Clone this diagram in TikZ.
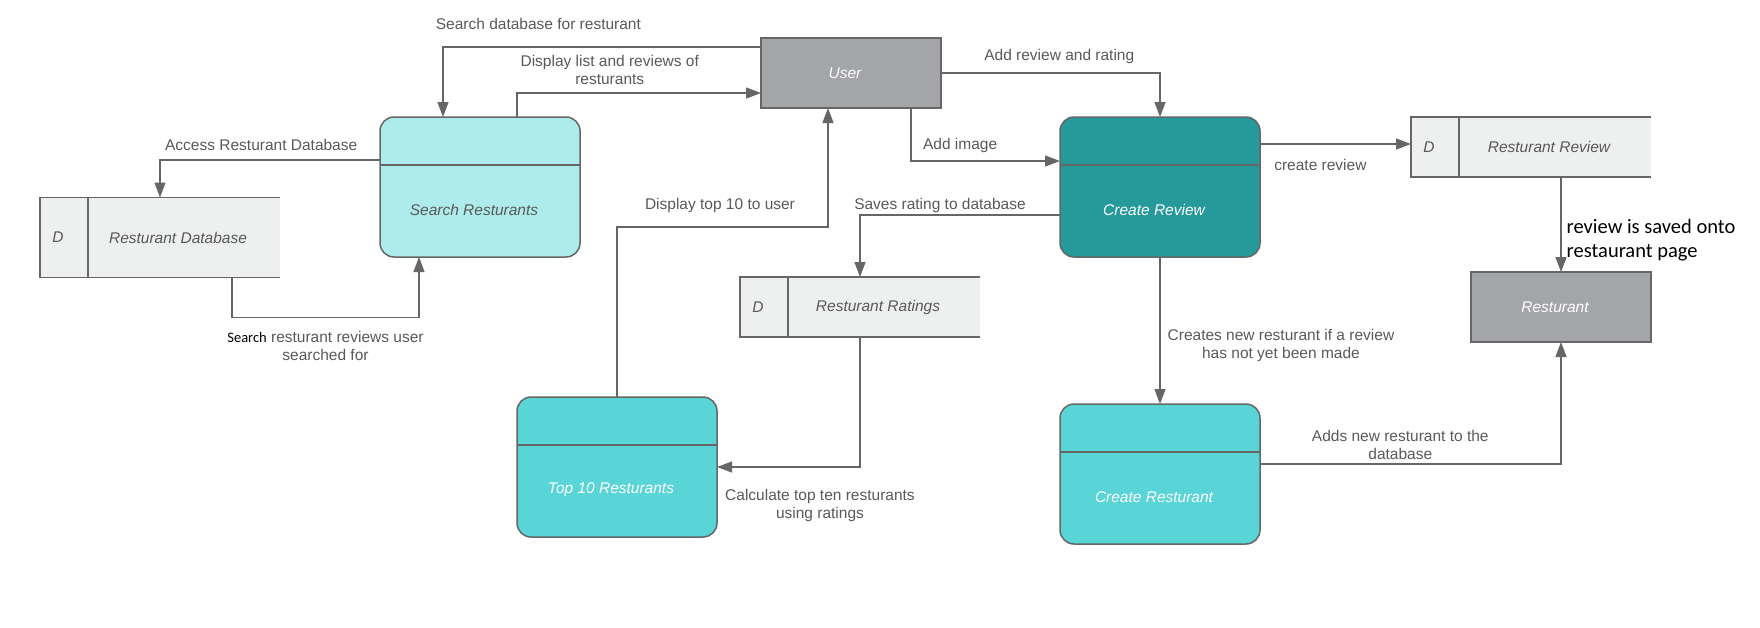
\documentclass[tikz,border=0pt]{standalone}
\usepackage{fontspec}
\setmainfont{Liberation Sans}
\newfontfamily\calibri{Carlito}
\usetikzlibrary{positioning,arrows.meta}

\definecolor{linegray}{HTML}{666666}
\definecolor{textgray}{HTML}{595959}
\definecolor{entitygray}{HTML}{A4A5A9}
\definecolor{paleteal}{HTML}{AEEBEB}
\definecolor{darkteal}{HTML}{26999A}
\definecolor{midteal}{HTML}{59D5D8}
\definecolor{storegray}{HTML}{EEF0EF}

\def\lblfont{\fontsize{15.5}{18}\selectfont}

\tikzset{
    textleft/.style={execute at end node={\hspace*{12pt}}},
    entity/.style={draw=linegray, line width=1.5pt, fill=entitygray, minimum width=180pt,
        minimum height=70pt, outer sep=0pt, font=\lblfont\itshape, text=white, textleft},
    process/.style={draw=linegray, line width=1.5pt, rounded corners=14pt, minimum width=200pt,
        minimum height=140pt, outer sep=0pt,
        path picture={\draw[linegray, line width=1.5pt]
            ([yshift=-48pt]path picture bounding box.north west) --
            ([yshift=-48pt]path picture bounding box.north east);}},
    proctext/.style={font=\lblfont\itshape, text=white, textleft},
    storeid/.style={fill=storegray, minimum width=48pt, outer sep=0pt, font=\lblfont\itshape, text=textgray, textleft},
    storebody/.style={fill=storegray, minimum width=192pt, outer sep=0pt, font=\lblfont\itshape, text=textgray, textleft},
    storeline/.style={draw=linegray, line width=1.5pt},
    flow/.style={draw=linegray, line width=1.3pt, -{Triangle[length=15pt,width=11pt]}},
    lbl/.style={text=textgray, align=center, font=\lblfont}
}

% name, centre of the D cell, height, label
\newcommand\DataStore[4]{
    \node[storeid, minimum height=#3] (#1-d) at (#2) {D};
    \node[storebody, minimum height=#3, right=0pt of #1-d] (#1) {#4};
    \draw[storeline] (#1.north east) -- (#1-d.north west) -- (#1-d.south west) -- (#1.south east);
    \draw[storeline] (#1-d.north east) -- (#1-d.south east);
}

\begin{document}
\begin{tikzpicture}[x=1pt, y=-1pt]
    \useasboundingbox (0,0) rectangle (1760,627);

    \node[entity] (user) at (851,73) {User};
    \node[entity] (rest) at (1561,307) {Resturant};

    \node[process, fill=paleteal] (search) at (480,187) {};
    \node[proctext, text=textgray] (search-txt) at ([yshift=-23pt]search.center) {Search Resturants};
    \node[process, fill=darkteal] (review) at (1160,187) {};
    \node[proctext] (review-txt) at ([yshift=-23pt]review.center) {Create Review};
    \node[process, fill=midteal] (topten) at (617,467) {};
    \node[proctext] (topten-txt) at ([yshift=-23pt]topten.center) {Top 10 Resturants};
    \node[process, fill=midteal] (newrest) at (1160,474) {};
    \node[proctext] (newrest-txt) at ([yshift=-23pt]newrest.center) {Create Resturant};

    \DataStore{db}{64,237.5}{80pt}{Resturant Database}
    \DataStore{revstore}{1435,147}{60pt}{Resturant Review}
    \DataStore{ratings}{764,307}{60pt}{Resturant Ratings}

    % user and search
    \draw[flow] ([yshift=26pt]user.west) -| node[lbl, pos=0.35, yshift=23pt] {Search database for resturant} ([xshift=-37pt]search.north);
    \draw[flow] ([xshift=37pt]search.north) |- node[lbl, pos=0.69, yshift=23pt] {Display list and reviews of\\resturants} ([yshift=-20pt]user.west);
    \draw[flow] ([yshift=27pt]search.west) -| node[lbl, pos=0.27, yshift=15pt] {Access Resturant Database} ([xshift=-24pt]db.north);
    \draw[flow] ([xshift=48pt]db.south) -- ++(0,40) -| node[lbl, pos=0.25, yshift=-28pt] {{\calibri\fontsize{14.5}{18}\selectfont\color{black}Search} resturant reviews user\\searched for} ([xshift=-61pt]search.south);
    \draw[flow] (topten.north) -- ++(0,-170) -| node[lbl, pos=0.244, yshift=22pt] {Display top 10 to user} ([xshift=-23pt]user.south);

    % user and review
    \draw[flow] (user.east) -| node[lbl, pos=0.27, yshift=17pt] {Add review and rating} (review.north);
    \draw[flow] ([xshift=60pt]user.south) |- node[lbl, pos=0.665, yshift=16pt] {Add image} ([yshift=26pt]review.west);
    \draw[flow] ([yshift=-28pt]review.west) -| node[lbl, pos=0.3, yshift=10pt] {Saves rating to database} ([xshift=-24pt]ratings.north);
    \draw[flow] ([xshift=-24pt]ratings.south) |- node[lbl, pos=0.64, yshift=-38pt] {Calculate top ten resturants\\using ratings} (topten.east);
    \draw[flow] ([yshift=43pt]review.east) -- node[lbl, pos=0.4, yshift=-21pt] {create review} ([yshift=3pt]revstore-d.west);
    \draw[flow] ([xshift=6pt]revstore.south) -- node[pos=0.66, anchor=west, xshift=5pt, inner sep=0pt, align=left, font=\calibri\fontsize{20.5}{24}\selectfont] {review is saved onto\\restaurant page} (rest.north);
    \draw[flow] (review.south) -- node[lbl, pos=0.6, anchor=west, xshift=7pt, inner sep=0pt] {Creates new resturant if a review\\has not yet been made} (newrest.north);
    \draw[flow] ([yshift=10pt]newrest.east) -| node[lbl, pos=0.233, yshift=19pt] {Adds new resturant to the\\database} (rest.south);
\end{tikzpicture}
\end{document}
